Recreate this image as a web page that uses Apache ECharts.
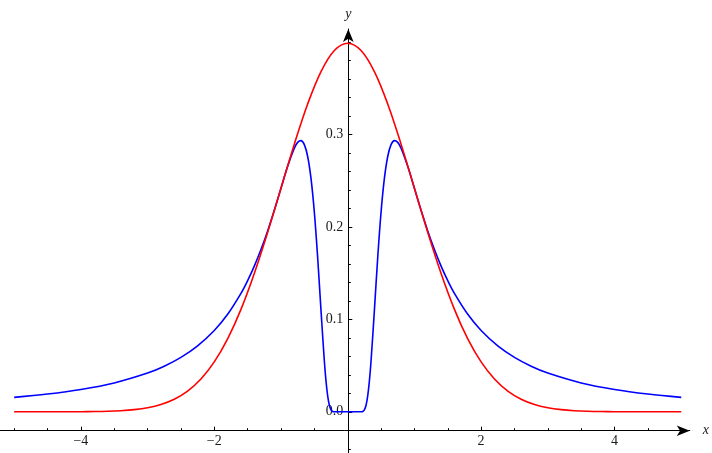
<!DOCTYPE html>
<html>
<head>
<meta charset="utf-8">
<script src="https://cdn.jsdelivr.net/npm/echarts@6/dist/echarts.min.js"></script>
<style>
html,body{margin:0;padding:0;background:#fff;}
#chart{width:712px;height:453px;}
</style>
</head>
<body>
<div id="chart"></div>
<script>
// ---- data ----
const redX = [-5,-4.8,-4.6,-4.4,-4.2,-4,-3.8,-3.6,-3.4,-3.2,-3,-2.8,-2.6,-2.4,-2.2,-2,-1.8,-1.6,-1.4,-1.2,-1,-0.8,-0.6,-0.4,-0.2,0,
  0.2,0.4,0.6,0.8,1,1.2,1.4,1.6,1.8,2,2.2,2.4,2.6,2.8,3,3.2,3.4,3.6,3.8,4,4.2,4.4,4.6,4.8,5];
const redY = [0.0000015,0.000004,0.00001,0.000025,0.000059,0.000134,0.00029,0.00061,0.00123,0.00238,0.00443,0.00792,0.01358,0.02239,0.03547,0.05399,0.07895,0.11092,0.14973,0.19419,0.24197,0.28969,0.33322,0.36827,0.39104,0.39894,
  0.39104,0.36827,0.33322,0.28969,0.24197,0.19419,0.14973,0.11092,0.07895,0.05399,0.03547,0.02239,0.01358,0.00792,0.00443,0.00238,0.00123,0.00061,0.00029,0.000134,0.000059,0.000025,0.00001,0.000004,0.0000015];
const blueX = [-5,-4.5,-4,-3.5,-3,-2.75,-2.5,-2.25,-2,-1.8,-1.6,-1.5,-1.4,-1.3,-1.2,-1.1,-1,-0.9,-0.8,-0.75,-0.7,-0.65,-0.6,-0.55,-0.5,-0.45,-0.4,-0.35,-0.325,-0.3,-0.275,-0.25,-0.225,-0.2,0,
  0.2,0.225,0.25,0.275,0.3,0.325,0.35,0.4,0.45,0.5,0.55,0.6,0.65,0.7,0.75,0.8,0.9,1,1.1,1.2,1.3,1.4,1.5,1.6,1.8,2,2.25,2.5,2.75,3,3.5,4,4.5,5];
const blueY = [0.01564,0.01922,0.02417,0.03126,0.04193,0.04938,0.05892,0.07139,0.08802,0.10552,0.12819,0.14198,0.15771,0.17560,0.19577,0.21811,0.24197,0.26567,0.28539,0.29157,0.29347,0.28913,0.27632,0.25256,0.21596,0.16677,0.10955,0.05497,0.03322,0.01714,0.0071,0.00214,0.0004,0.00004,0,
  0.00004,0.0004,0.00214,0.0071,0.01714,0.03322,0.05497,0.10955,0.16677,0.21596,0.25256,0.27632,0.28913,0.29347,0.29157,0.28539,0.26567,0.24197,0.21811,0.19577,0.17560,0.15771,0.14198,0.12819,0.10552,0.08802,0.07139,0.05892,0.04938,0.04193,0.03126,0.02417,0.01922,0.01564];
const xLabelValues = [-4,-2,2,4];
const xMinorTicks = [-5,-4.5,-3.5,-3,-2.5,-1.5,-1,-0.5,0.5,1,1.5,2.5,3,3.5,4.5,5];
const yLabelValues = [0,0.1,0.2,0.3];
const yMinorTicks = [-0.04,-0.02,0.02,0.04,0.06,0.08,0.12,0.14,0.16,0.18,0.22,0.24,0.26,0.28,0.32,0.34,0.36,0.38,0.4];

// ---- chart ----
const X_MIN = -5.212, X_MAX = 5.128;
const Y_TOP = 0.4143;          // value at the top end of the vertical axis line
const Y_BOTTOM = -0.04459;     // value at the bottom edge of the picture
const X_AXIS_AT = -0.02045;    // value where the horizontal axis is drawn
const PLOT_LEFT = 0, PLOT_TOP = 29, PLOT_WIDTH = 691;
const PX_PER_Y = 924;
const Y_AXIS_PX = PLOT_LEFT + (0 - X_MIN) / (X_MAX - X_MIN) * PLOT_WIDTH;

const font = '"Liberation Serif", "DejaVu Serif", serif';
const axisColor = '#000';
const labelColor = '#1a1a1a';

const pair = (xs, ys) => xs.map((x, i) => [x, ys[i]]);

const chart = echarts.init(document.getElementById('chart'), null, {renderer: 'canvas'});
chart.setOption({
  animation: false,
  backgroundColor: '#fff',
  grid: [
    // grid 0: plot area, its bottom edge is the horizontal axis
    {left: PLOT_LEFT, top: PLOT_TOP, width: PLOT_WIDTH, height: (Y_TOP - X_AXIS_AT) * PX_PER_Y, containLabel: false},
    // grid 1: carries the vertical axis at x = 0, down to the bottom of the picture
    {left: Y_AXIS_PX, top: PLOT_TOP, width: 10, height: (Y_TOP - Y_BOTTOM) * PX_PER_Y, containLabel: false}
  ],
  xAxis: [
    {
      gridIndex: 0, type: 'value', min: X_MIN, max: X_MAX, position: 'bottom',
      name: 'x', nameLocation: 'end', nameGap: 13,
      nameTextStyle: {fontFamily: font, fontStyle: 'italic', fontSize: 14, color: labelColor},
      axisLine: {show: true, onZero: false, symbol: ['none', 'arrow'], symbolSize: [8, 13],
        lineStyle: {color: axisColor, width: 1}},
      axisTick: {show: true, inside: true, length: 4, customValues: xLabelValues, lineStyle: {color: axisColor, width: 1}},
      axisLabel: {show: true, customValues: xLabelValues, margin: 4, fontFamily: font, fontSize: 14, color: labelColor,
        formatter: v => (v < 0 ? '\u2212' + Math.abs(v) : String(v))},
      splitLine: {show: false}
    },
    {
      gridIndex: 0, type: 'value', min: X_MIN, max: X_MAX, position: 'bottom',
      axisLine: {show: false, onZero: false},
      axisTick: {show: true, inside: true, length: 2.5, customValues: xMinorTicks, lineStyle: {color: axisColor, width: 1}},
      axisLabel: {show: false},
      splitLine: {show: false}
    },
    {
      gridIndex: 1, type: 'value', show: false, min: 0, max: 1, splitLine: {show: false}
    }
  ],
  yAxis: [
    {
      gridIndex: 0, type: 'value', show: false, min: X_AXIS_AT, max: Y_TOP, splitLine: {show: false}
    },
    {
      gridIndex: 1, type: 'value', min: Y_BOTTOM, max: Y_TOP, position: 'left',
      name: 'y', nameLocation: 'end', nameGap: 8,
      nameTextStyle: {fontFamily: font, fontStyle: 'italic', fontSize: 14, color: labelColor, align: 'center'},
      axisLine: {show: true, onZero: false, symbol: ['none', 'arrow'], symbolSize: [8, 13],
        lineStyle: {color: axisColor, width: 1}},
      axisTick: {show: true, inside: true, length: 4, customValues: yLabelValues, lineStyle: {color: axisColor, width: 1}},
      axisLabel: {show: true, customValues: yLabelValues, margin: 5, fontFamily: font, fontSize: 14, color: labelColor,
        formatter: v => v.toFixed(1)},
      splitLine: {show: false}
    },
    {
      gridIndex: 1, type: 'value', min: Y_BOTTOM, max: Y_TOP, position: 'left',
      axisLine: {show: false, onZero: false},
      axisTick: {show: true, inside: true, length: 2.5, customValues: yMinorTicks, lineStyle: {color: axisColor, width: 1}},
      axisLabel: {show: false},
      splitLine: {show: false}
    }
  ],
  series: [
    {
      type: 'line', xAxisIndex: 0, yAxisIndex: 0, data: pair(blueX, blueY),
      showSymbol: false, smooth: 0.35, silent: true, clip: false,
      lineStyle: {color: '#0000ff', width: 1.6}
    },
    {
      type: 'line', xAxisIndex: 0, yAxisIndex: 0, data: pair(redX, redY),
      showSymbol: false, smooth: 0.35, silent: true, clip: false,
      lineStyle: {color: '#ff0000', width: 1.6}
    }
  ]
});
</script>
</body>
</html>
